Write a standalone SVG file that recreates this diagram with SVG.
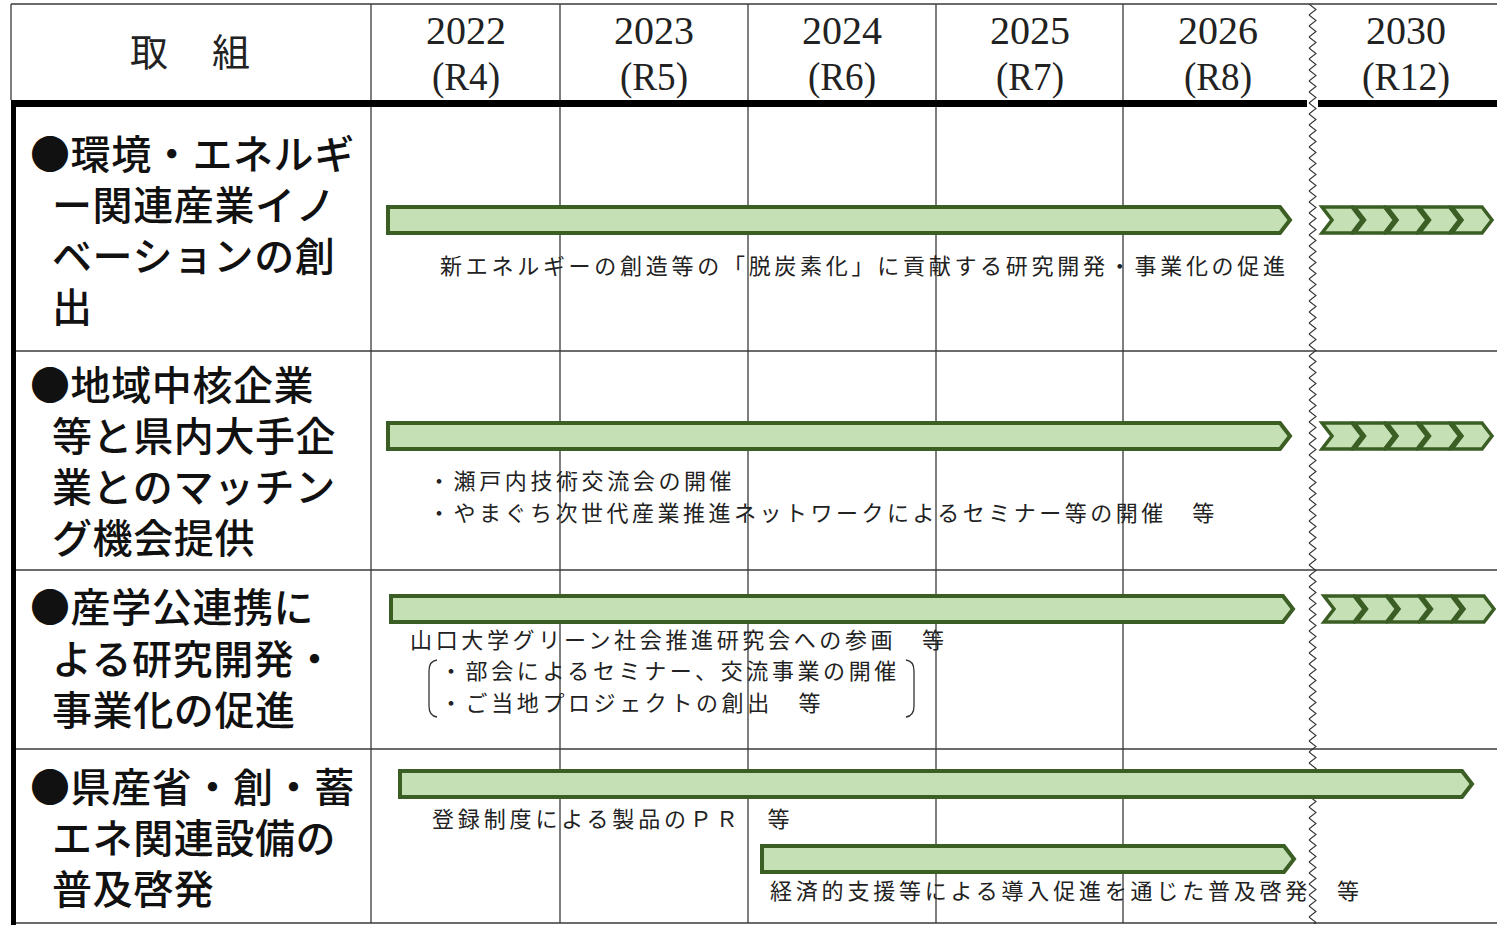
<svg xmlns="http://www.w3.org/2000/svg" width="1497" height="927" viewBox="0 0 1497 927">
<defs>
<style>
.grid{stroke:#3a3a3a;stroke-width:1.3;fill:none}
.thick{stroke:#000;fill:none}
.yr{font-family:"Liberation Serif","Times New Roman",serif;font-size:40px;fill:#222;text-anchor:middle}
.hd{font-family:"Noto Sans CJK JP","Noto Sans CJK SC",sans-serif;font-size:38px;fill:#222}
.lab{font-family:"Noto Sans CJK JP","Noto Sans CJK SC",sans-serif;font-size:40px;font-weight:500;fill:#111;letter-spacing:0.6px}
.desc{font-family:"Noto Sans CJK JP","Noto Sans CJK SC",sans-serif;font-size:22px;fill:#222;letter-spacing:3.6px}
.bar{fill:#c5e0b4;stroke:#3b5e25;stroke-width:4;stroke-linejoin:miter}
.chv{fill:#c5e0b4;stroke:#3b5e25;stroke-width:3.5;stroke-linejoin:miter}
.brk{stroke:#333;stroke-width:1.3;fill:none}
</style>
<pattern id="zz" patternUnits="userSpaceOnUse" x="1307" y="4" width="12" height="11">
<polyline points="2,0 9,5.5 2,11" fill="none" stroke="#333" stroke-width="1.1"/>
</pattern>
<polygon id="chev" points="0,0 30,0 40,13 30,26 0,26 10,13"/>
</defs>

<g id="connectors">
<line class="grid" x1="11" y1="4" x2="1497" y2="4"/>
<line class="grid" x1="11" y1="4" x2="11" y2="100"/>
<line class="grid" x1="371" y1="4" x2="371" y2="923"/>
<line class="grid" x1="560" y1="4" x2="560" y2="923"/>
<line class="grid" x1="748" y1="4" x2="748" y2="923"/>
<line class="grid" x1="936" y1="4" x2="936" y2="923"/>
<line class="grid" x1="1123" y1="4" x2="1123" y2="923"/>
<line class="grid" x1="11" y1="351" x2="1497" y2="351"/>
<line class="grid" x1="11" y1="570" x2="1497" y2="570"/>
<line class="grid" x1="11" y1="749" x2="1497" y2="749"/>
<line class="grid" x1="11" y1="923" x2="1497" y2="923"/>
<line class="thick" stroke-width="7" x1="11" y1="103.5" x2="1307" y2="103.5"/>
<line class="thick" stroke-width="7" x1="1318" y1="103.5" x2="1497" y2="103.5"/>
<line class="thick" stroke-width="5" x1="13.5" y1="100" x2="13.5" y2="925"/>
<rect id="zigzag" x="1307" y="4" width="12" height="920" fill="url(#zz)"/>
</g>

<g id="header">
<text class="hd" x="130" y="66">取</text>
<text class="hd" x="212" y="66">組</text>
<text class="yr" x="466" y="44">2022</text>
<text class="yr" x="466" y="90" textLength="68" lengthAdjust="spacingAndGlyphs">(R4)</text>
<text class="yr" x="654" y="44">2023</text>
<text class="yr" x="654" y="90" textLength="68" lengthAdjust="spacingAndGlyphs">(R5)</text>
<text class="yr" x="842" y="44">2024</text>
<text class="yr" x="842" y="90" textLength="68" lengthAdjust="spacingAndGlyphs">(R6)</text>
<text class="yr" x="1030" y="44">2025</text>
<text class="yr" x="1030" y="90" textLength="68" lengthAdjust="spacingAndGlyphs">(R7)</text>
<text class="yr" x="1218" y="44">2026</text>
<text class="yr" x="1218" y="90" textLength="68" lengthAdjust="spacingAndGlyphs">(R8)</text>
<text class="yr" x="1406" y="44">2030</text>
<text class="yr" x="1406" y="90" textLength="88" lengthAdjust="spacingAndGlyphs">(R12)</text>
</g>

<g id="row1">
<text class="lab" x="30" y="169">●環境・エネルギ</text>
<text class="lab" x="52" y="220">ー関連産業イノ</text>
<text class="lab" x="52" y="271">ベーションの創</text>
<text class="lab" x="52" y="322">出</text>
<polygon class="bar" points="388,207 1280,207 1290,220 1280,233 388,233"/>
<g transform="translate(1322,207)">
<use href="#chev" class="chv" x="0"/><use href="#chev" class="chv" x="32.5"/><use href="#chev" class="chv" x="65"/><use href="#chev" class="chv" x="97.5"/><use href="#chev" class="chv" x="130"/>
</g>
<text class="desc" x="440" y="274" style="letter-spacing:3.72px">新エネルギーの創造等の「脱炭素化」に貢献する研究開発・事業化の促進</text>
</g>

<g id="row2">
<text class="lab" x="30" y="400">●地域中核企業</text>
<text class="lab" x="52" y="451">等と県内大手企</text>
<text class="lab" x="52" y="502">業とのマッチン</text>
<text class="lab" x="52" y="553">グ機会提供</text>
<polygon class="bar" points="388,423 1280,423 1290,436 1280,449 388,449"/>
<g transform="translate(1322,423)">
<use href="#chev" class="chv" x="0"/><use href="#chev" class="chv" x="32.5"/><use href="#chev" class="chv" x="65"/><use href="#chev" class="chv" x="97.5"/><use href="#chev" class="chv" x="130"/>
</g>
<text class="desc" x="428" y="489">・瀬戸内技術交流会の開催</text>
<text class="desc" x="428" y="521" style="letter-spacing:3.5px">・やまぐち次世代産業推進ネットワークによるセミナー等の開催　等</text>
</g>

<g id="row3">
<text class="lab" x="30" y="622">●産学公連携に</text>
<text class="lab" x="52" y="674">よる研究開発・</text>
<text class="lab" x="52" y="725">事業化の促進</text>
<polygon class="bar" points="391,596 1283,596 1293,609 1283,622 391,622"/>
<g transform="translate(1324,596)">
<use href="#chev" class="chv" x="0"/><use href="#chev" class="chv" x="32.5"/><use href="#chev" class="chv" x="65"/><use href="#chev" class="chv" x="97.5"/><use href="#chev" class="chv" x="130"/>
</g>
<text class="desc" x="410" y="648" style="letter-spacing:3.65px">山口大学グリーン社会推進研究会への参画　等</text>
<text class="desc" x="440" y="679">・部会によるセミナー、交流事業の開催</text>
<text class="desc" x="440" y="711">・ご当地プロジェクトの創出　等</text>
<path class="brk" d="M437,660 Q429,661 429,671 L429,706 Q429,716 437,717"/>
<path class="brk" d="M906,660 Q914,661 914,671 L914,706 Q914,716 906,717"/>
</g>

<g id="row4">
<text class="lab" x="30" y="802">●県産省・創・蓄</text>
<text class="lab" x="52" y="853">エネ関連設備の</text>
<text class="lab" x="52" y="904">普及啓発</text>
<polygon class="bar" points="400,771 1462,771 1472,784 1462,797 400,797"/>
<text class="desc" x="432" y="827" style="letter-spacing:3.85px">登録制度による製品のＰＲ　等</text>
<polygon class="bar" points="762,846 1284,846 1294,859 1284,872 762,872"/>
<text class="desc" x="770" y="899" style="letter-spacing:3.8px">経済的支援等による導入促進を通じた普及啓発　等</text>
</g>
</svg>
